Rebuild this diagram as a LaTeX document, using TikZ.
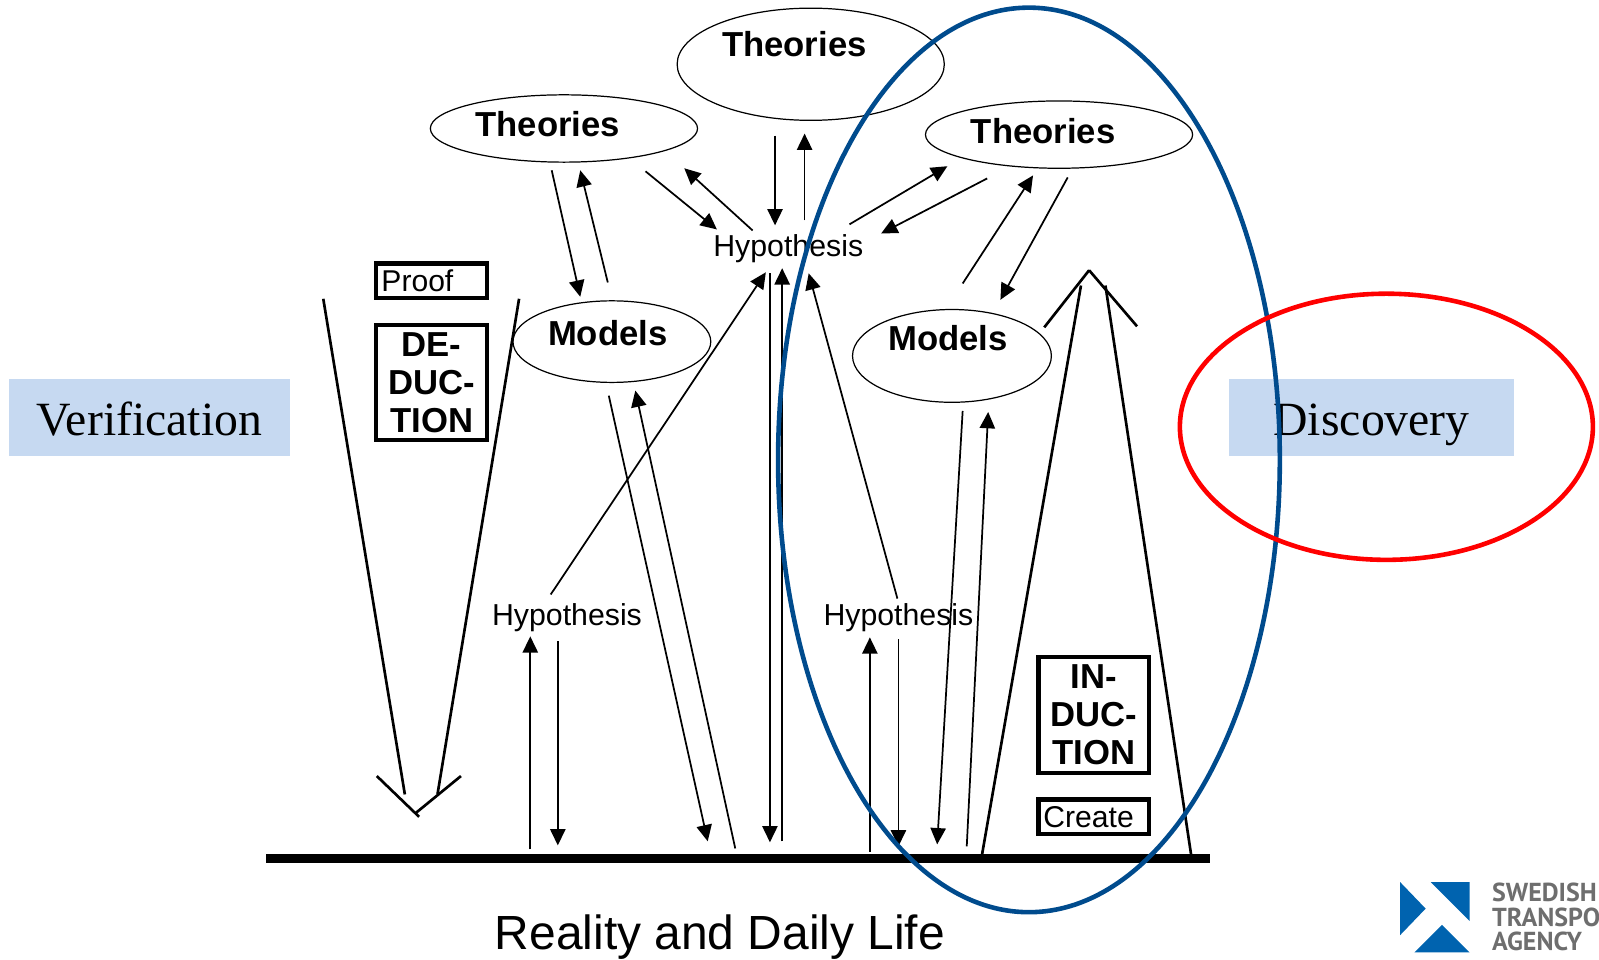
\documentclass[tikz,border=0pt]{standalone}
\usepackage{fontspec}
\setmainfont{Liberation Sans}
\newfontfamily\serifface{Liberation Serif}
\newfontfamily\logoface{PT Sans}
\usetikzlibrary{positioning, arrows.meta, shapes.geometric}

\definecolor{boxblue}{HTML}{C6D9F1}
\definecolor{ringblue}{HTML}{004B8D}
\definecolor{logoblue}{HTML}{0063AF}
\definecolor{logogray}{HTML}{6E6E6E}

\begin{document}
\begin{tikzpicture}[
    x=1pt, y=-1pt,
    >={Triangle[length=16pt,width=15pt]},
    blob/.style={ellipse, draw, line width=1.2pt, inner sep=0pt},
    title/.style={font=\fontsize{34}{37}\selectfont\bfseries, inner sep=0pt},
    hypo/.style={font=\fontsize{29.7}{32}\selectfont, inner sep=0pt},
    tagbox/.style={rectangle, draw, line width=4.2pt, minimum width=108.5pt, align=center, inner sep=0pt,
        font=\fontsize{34}{37}\selectfont\bfseries},
    notebox/.style={rectangle, draw, line width=4.2pt, text width=98.5pt, minimum height=34pt, align=left, inner sep=5pt,
        font=\fontsize{29.5}{32}\selectfont},
    sidebox/.style={rectangle, fill=boxblue, minimum height=75pt, inner sep=0pt, text height=40pt, text depth=5pt,
        font=\fontsize{46.8}{50}\selectfont\serifface},
    arrow/.style={->, line width=1.7pt},
    thickline/.style={line width=2.6pt}
]
\useasboundingbox (0,0) rectangle (1568,941);

% Side labels
\node[sidebox, minimum width=275pt] (verify) at (146.5,409.5) {Verification};
\node[sidebox, minimum width=280pt] (discover) at (1345,409.5) {Discovery};

% Theories and models
\node[blob, minimum width=262pt, minimum height=110pt] (thTop) at (795,63) {};
\node[blob, minimum width=262pt, minimum height=66pt] (thLeft) at (553,126) {};
\node[blob, minimum width=262pt, minimum height=66pt] (thRight) at (1038.5,132) {};
\node[blob, minimum width=194pt, minimum height=80pt] (mLeft) at (600,335) {};
\node[blob, minimum width=195pt, minimum height=91pt] (mRight) at (933.5,349) {};

\node[title] (thTopText) at (779,43) {Theories};
\node[title] (thLeftText) at (537,122) {Theories};
\node[title] (thRightText) at (1023,128.5) {Theories};
\node[title] (mLeftText) at (596,327) {Models};
\node[title] (mRightText) at (929.5,332) {Models};

% Hypotheses
\node[hypo] (hypTop) at (773,243.5) {Hypothesis};
\node[hypo] (hypLeft) at (556,605.5) {Hypothesis};
\node[hypo] (hypRight) at (881,605.5) {Hypothesis};

% Boxes
\node[notebox] (proof) at (423.3,275.5) {Proof};
\node[tagbox, below=22pt of proof, minimum height=113pt] (deduct) {DE-\\DUC-\\TION};
\node[tagbox, minimum height=114pt] (induct) at (1072.5,701) {IN-\\DUC-\\TION};
\node[notebox] (create) at (1072.5,801) {Create};

% Arrow ends
\coordinate (a1) at (541,167);  \coordinate (b1) at (569,291);
\coordinate (a2) at (596,277);  \coordinate (b2) at (569,167);
\coordinate (a3) at (633,168);  \coordinate (b3) at (703,225);
\coordinate (a4) at (738,226);  \coordinate (b4) at (671,165);
\coordinate (a5) at (760,133);  \coordinate (b5) at (760,221);
\coordinate (a6) at (789,216);  \coordinate (b6) at (789,131);
\coordinate (a7) at (833,220);  \coordinate (b7) at (929,163);
\coordinate (a8) at (968,175);  \coordinate (b8) at (864,229);
\coordinate (a9) at (944,278);  \coordinate (b9) at (1013,172);
\coordinate (a10) at (1047,174); \coordinate (b10) at (981,294);
\coordinate (a11) at (540,583); \coordinate (b11) at (751,267);
\coordinate (a12) at (880,587); \coordinate (b12) at (793,268);
\coordinate (a13) at (767,825); \coordinate (b13) at (767,263);
\coordinate (a14) at (755,268); \coordinate (b14) at (755,826);
\coordinate (a15) at (597,388); \coordinate (b15) at (694,825);
\coordinate (a16) at (721,832); \coordinate (b16) at (623,383);
\coordinate (a17) at (944,403); \coordinate (b17) at (919,828);
\coordinate (a18) at (948,830); \coordinate (b18) at (969,404);
\coordinate (a19) at (520,833); \coordinate (b19) at (520,624);
\coordinate (a20) at (547,629); \coordinate (b20) at (547,829);
\coordinate (a21) at (853,835); \coordinate (b21) at (853,625);
\coordinate (a22) at (881,627); \coordinate (b22) at (881,830);

% Thin arrows
\foreach \i in {1,...,22}
    \draw[arrow] (a\i) -- (b\i);

% Deduction shaft and head
\coordinate (dedL) at (317,293);  \coordinate (dedLb) at (397,779);
\coordinate (dedR) at (509,293);  \coordinate (dedRb) at (429,779);
\coordinate (dedTipL) at (411,801); \coordinate (dedTipR) at (408,797);
\coordinate (dedWL) at (369.5,761); \coordinate (dedWR) at (452,761);
\draw[thickline] (dedL) -- (dedLb);
\draw[thickline] (dedR) -- (dedRb);
\draw[thickline] (dedWL) -- (dedTipL);
\draw[thickline] (dedWR) -- (dedTipR);

% Induction shaft and head
\coordinate (indL) at (963,838);  \coordinate (indLt) at (1060,280);
\coordinate (indR) at (1168,838); \coordinate (indRt) at (1084,280);
\coordinate (indTip) at (1068,265);
\coordinate (indWL) at (1024,321); \coordinate (indWR) at (1115,320);
\draw[thickline] (indL) -- (indLt);
\draw[thickline] (indR) -- (indRt);
\draw[thickline] (indWL) -- (indTip);
\draw[thickline] (indWR) -- (indTip);

% Ground
\coordinate (groundL) at (261,841.8);
\coordinate (groundR) at (1187,841.8);
\draw[line width=9pt] (groundL) -- (groundR);
\node[inner sep=0pt, font=\fontsize{47}{51}\selectfont] (reality) at (706,919) {Reality and Daily Life};

% Logo
\fill[logoblue] (1373,865) -- (1398,891) -- (1373,917) -- cycle;
\fill[logoblue] (1403,865) -- (1441,865) -- (1441,903) -- cycle;
\fill[logoblue] (1414,907) -- (1441,934) -- (1387,934) -- cycle;
\node[anchor=north west, inner sep=0pt, align=left, text=logogray,
    font=\fontsize{25.5}{24}\selectfont\logoface\bfseries] (agency) at (1463,866) {SWEDISH\\TRANSPO\\AGENCY};

% Rings
\node[ellipse, draw=ringblue, line width=4.5pt, minimum width=492pt, minimum height=887pt, inner sep=0pt] (ringBlue) at (1009,451) {};
\node[ellipse, draw=red, line width=4.5pt, minimum width=405pt, minimum height=261pt, inner sep=0pt] (ringRed) at (1359.5,418.5) {};

\end{tikzpicture}
\end{document}
